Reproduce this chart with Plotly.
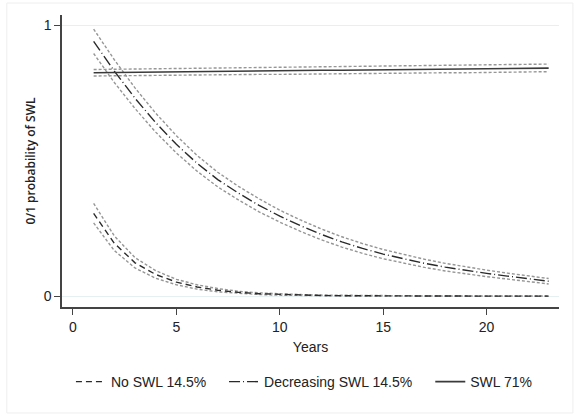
import plotly.graph_objects as go

years = list(range(1, 24))

no_swl = [0.305, 0.195, 0.123, 0.080, 0.052, 0.034, 0.022, 0.014, 0.009, 0.006, 0.004, 0.0025,
          0.0016, 0.001, 0.0007, 0.0005, 0.0003, 0.0002, 0.00015, 0.0001, 0.0001, 0.0001, 0.0001]
no_swl_lo = [0.270, 0.168, 0.104, 0.066, 0.042, 0.026, 0.016, 0.010, 0.006, 0.0035, 0.002, 0.001,
             0.0005, 0.0002, 0.0001, 0.0, 0.0, 0.0, 0.0, 0.0, 0.0, 0.0, 0.0]
no_swl_hi = [0.342, 0.222, 0.142, 0.094, 0.062, 0.042, 0.028, 0.018, 0.012, 0.008, 0.006, 0.004,
             0.003, 0.002, 0.0015, 0.001, 0.001, 0.0008, 0.0006, 0.0005, 0.0004, 0.0004, 0.0003]

decr = [0.94, 0.83, 0.73, 0.64, 0.56, 0.49, 0.43, 0.38, 0.335, 0.295, 0.26, 0.228, 0.20, 0.176,
        0.155, 0.137, 0.121, 0.107, 0.095, 0.084, 0.074, 0.064, 0.055]
decr_lo = [0.895, 0.788, 0.692, 0.605, 0.528, 0.461, 0.403, 0.355, 0.311, 0.273, 0.239, 0.208,
           0.181, 0.158, 0.138, 0.121, 0.106, 0.093, 0.082, 0.072, 0.063, 0.053, 0.045]
decr_hi = [0.985, 0.872, 0.768, 0.675, 0.592, 0.519, 0.457, 0.405, 0.359, 0.317, 0.281, 0.248,
           0.219, 0.194, 0.172, 0.153, 0.136, 0.121, 0.108, 0.096, 0.085, 0.075, 0.065]

swl = [0.824, 0.825, 0.826, 0.826, 0.827, 0.828, 0.829, 0.830, 0.830, 0.831, 0.832, 0.833,
       0.833, 0.834, 0.835, 0.836, 0.836, 0.837, 0.838, 0.839, 0.839, 0.840, 0.841]
swl_lo = [0.812, 0.813, 0.814, 0.814, 0.815, 0.816, 0.816, 0.817, 0.818, 0.818, 0.819, 0.820,
          0.820, 0.821, 0.822, 0.822, 0.823, 0.824, 0.824, 0.825, 0.826, 0.827, 0.828]
swl_hi = [0.836, 0.837, 0.838, 0.839, 0.840, 0.841, 0.842, 0.843, 0.843, 0.844, 0.845, 0.846,
          0.847, 0.848, 0.848, 0.849, 0.850, 0.851, 0.852, 0.853, 0.854, 0.855, 0.856]

labels = ["No SWL 14.5%", "Decreasing SWL 14.5%", "SWL 71%"]

CI_COLOR = "#969696"
CI_DASH = "3px,2px"

fig = go.Figure()
for lo, hi in [(no_swl_lo, no_swl_hi), (decr_lo, decr_hi), (swl_lo, swl_hi)]:
    for s in (lo, hi):
        fig.add_trace(go.Scatter(x=years, y=s, mode="lines", showlegend=False, hoverinfo="skip",
                                 line=dict(color=CI_COLOR, width=1.4, dash=CI_DASH)))

fig.add_trace(go.Scatter(x=years, y=no_swl, mode="lines", name=labels[0], legend="legend",
                         line=dict(color="#2a2a2a", width=1.4, dash="6px,4px")))
fig.add_trace(go.Scatter(x=years, y=decr, mode="lines", name=labels[1], legend="legend2",
                         line=dict(color="#2a2a2a", width=1.4, dash="11px,3px,1px,3px")))
fig.add_trace(go.Scatter(x=years, y=swl, mode="lines", name=labels[2], legend="legend3",
                         line=dict(color="#3a3a3a", width=1.6)))

fig.add_shape(type="rect", xref="paper", yref="paper", x0=-0.111, x1=1.028, y0=-0.363, y1=1.041,
              line=dict(color="#eeeeee", width=1), layer="below")

leg_common = dict(orientation="h", y=-0.257, yanchor="middle", xanchor="left",
                  font=dict(size=14), bgcolor="rgba(0,0,0,0)", itemwidth=30)

fig.update_layout(
    width=575, height=419,
    margin=dict(l=62, r=16, t=15, b=112),
    paper_bgcolor="white", plot_bgcolor="white",
    font=dict(family="Liberation Sans, Arial, sans-serif", size=14, color="#222"),
    xaxis=dict(range=[-0.53, 23.5], tickvals=[0, 5, 10, 15, 20], showgrid=False, zeroline=False,
               showline=True, linecolor="#444", linewidth=1.5, ticks="outside", ticklen=6,
               tickcolor="#444", tickwidth=1.3,
               title=dict(text="Years", standoff=9, font=dict(size=14))),
    yaxis=dict(range=[-0.04, 1.037], tickvals=[0, 1], showgrid=True, gridcolor="#e6f0f1",
               gridwidth=1.3, zeroline=False, showline=True, linecolor="#444", linewidth=1.5,
               ticks="outside", ticklen=6, tickcolor="#444", tickwidth=1.3,
               title=dict(text="0/1 probability of SWL", standoff=5,
                          font=dict(family="Open Sans, sans-serif", size=12, weight=600))),
    legend=dict(x=0.018, **leg_common),
    legend2=dict(x=0.326, **leg_common),
    legend3=dict(x=0.741, **leg_common),
)

fig.write_html("out.html")
